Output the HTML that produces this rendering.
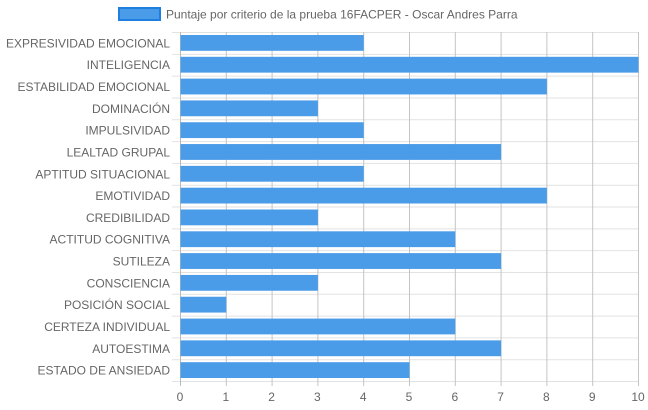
<!DOCTYPE html>
<html><head><meta charset="utf-8"><style>
body{margin:0;background:#fff;font-family:"Liberation Sans",Arial,sans-serif}
svg{display:block}
</style></head><body>
<svg id="chart" width="648" height="410" xmlns="http://www.w3.org/2000/svg">
<g>
<rect x="119" y="8" width="41" height="12" fill="#4a9be8" stroke="#1f7fe0" stroke-width="2"/>
<text x="166" y="18.5" font-size="12" fill="#666">Puntaje por criterio de la prueba 16FACPER - Oscar Andres Parra</text>
</g>
<g id="grid"></g>
<g id="bars"></g>
<g id="labels"></g>
</svg>
<script>
const categories=["EXPRESIVIDAD EMOCIONAL","INTELIGENCIA","ESTABILIDAD EMOCIONAL","DOMINACIÓN","IMPULSIVIDAD","LEALTAD GRUPAL","APTITUD SITUACIONAL","EMOTIVIDAD","CREDIBILIDAD","ACTITUD COGNITIVA","SUTILEZA","CONSCIENCIA","POSICIÓN SOCIAL","CERTEZA INDIVIDUAL","AUTOESTIMA","ESTADO DE ANSIEDAD"];
const values=[4,10,8,3,4,7,4,8,3,6,7,3,1,6,7,5];
const xTicks=[0,1,2,3,4,5,6,7,8,9,10];
const NS="http://www.w3.org/2000/svg";
const L=180,R=638,T=32,B=381,xMax=10;
const x=v=>L+(R-L)*v/xMax;
const rowH=(B-T)/categories.length;
const y=i=>T+rowH*i;
function mk(tag,attrs,parent){const e=document.createElementNS(NS,tag);for(const k in attrs)e.setAttribute(k,attrs[k]);parent.appendChild(e);return e;}
const grid=document.getElementById('grid'),bars=document.getElementById('bars'),labels=document.getElementById('labels');
for(let i=0;i<=categories.length;i++){
  const ln=mk('line',{x1:172,x2:R,y1:y(i)+0.5,y2:y(i)+0.5,stroke:'#e2e2e2','stroke-width':1},grid);
  
  
}
xTicks.forEach(t=>{
  const ln=mk('line',{x1:x(t)+0.5,x2:x(t)+0.5,y1:T,y2:B+5,stroke:t===0?'#bbb':'#c4c4c4','stroke-width':1},grid);
  
  
  const tx=mk('text',{x:x(t),y:B+20,'text-anchor':'middle','font-size':12,fill:'#666'},labels);
  tx.textContent=t;
  
  
});
categories.forEach((c,i)=>{
  const r=mk('rect',{x:L+0.5,y:y(i)+3,width:x(values[i])-L,height:rowH-6,fill:'#4a9be8'},bars);
  
  
  const tx=mk('text',{x:170,y:y(i)+rowH/2+4.5,'text-anchor':'end','font-size':12,fill:'#666'},labels);
  tx.textContent=c;
  
  
});
</script>
</body></html>
